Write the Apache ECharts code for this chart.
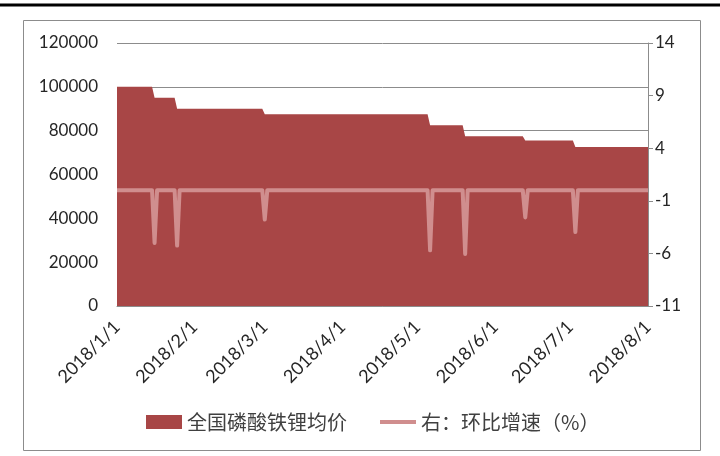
<!DOCTYPE html>
<html>
<head>
<meta charset="utf-8">
<script src="https://cdn.jsdelivr.net/npm/echarts@6/dist/echarts.min.js"></script>
<style>
html,body{margin:0;padding:0;background:#fff;}
#chart{width:720px;height:456px;}
</style>
</head>
<body>
<div id="chart"></div>
<script>
// Price (yuan/ton): dates of level changes and values
var priceDates = ['2018-01-01','2018-01-15','2018-01-16','2018-01-24','2018-01-25','2018-02-28','2018-03-01','2018-05-05','2018-05-06','2018-05-19','2018-05-20','2018-06-12','2018-06-13','2018-07-02','2018-07-03','2018-08-01'];
var priceValues = [100000,100000,95000,95000,90000,90000,87500,87500,82500,82500,77500,77500,75500,75500,72500,72500];
// Ring growth (%)
var ringDates = ['2018-01-01','2018-01-15','2018-01-16','2018-01-17','2018-01-24','2018-01-25','2018-01-26','2018-02-28','2018-03-01','2018-03-02','2018-05-05','2018-05-06','2018-05-07','2018-05-19','2018-05-20','2018-05-21','2018-06-12','2018-06-13','2018-06-14','2018-07-02','2018-07-03','2018-07-04','2018-08-01'];
var ringValues = [0,0,-5.0,0,0,-5.26,0,0,-2.78,0,0,-5.71,0,0,-6.06,0,0,-2.58,0,0,-3.97,0,0];
var xTickDates = ['2018-01-01','2018-02-01','2018-03-01','2018-04-01','2018-05-01','2018-06-01','2018-07-01','2018-08-01'];
var leftTicks = [0,120000,20000];
var rightTicks = [-11,14,5];
var seriesNames = ['全国磷酸铁锂均价','右：环比增速（%）'];

function toTime(s){ var p=s.split('-'); return new Date(+p[0], +p[1]-1, +p[2]).getTime(); }
function pair(d, v){ return d.map(function(x,i){ return [toTime(x), v[i]]; }); }

var chart = echarts.init(document.getElementById('chart'));
var numFont = 'Lato, "Liberation Sans", sans-serif';
var cjkFont = '"Noto Sans CJK SC", "Noto Sans", sans-serif';

chart.setOption({
  animation:false,
  backgroundColor:'#fff',
  graphic:[
    {type:'line', shape:{x1:0,y1:5,x2:720,y2:5}, style:{stroke:'#000', lineWidth:3}},
    {type:'rect', shape:{x:23.5,y:20.5,width:677,height:430}, style:{fill:null, stroke:'#8c8c8c', lineWidth:1}}
  ],
  grid:{left:117, right:72, top:43, bottom:150},
  legend:{
    left:141, top:407, itemGap:33, itemWidth:36, itemHeight:14,
    textStyle:{fontFamily:cjkFont, fontSize:20, color:'#404040'},
    data:[
      {name:seriesNames[0], icon:'rect'},
      {name:seriesNames[1], icon:'path://M0,0H36V4H0Z'}
    ]
  },
  xAxis:{
    type:'value', min:toTime(xTickDates[0]), max:toTime(xTickDates[xTickDates.length-1]),
    axisLine:{lineStyle:{color:'#8c8c8c'}},
    axisTick:{show:false},
    splitLine:{show:false},
    axisLabel:{
      rotate:45, margin:18, fontFamily:numFont, fontSize:18, color:'#262626', hideOverlap:false,
      showMinLabel:true, showMaxLabel:true,
      customValues:xTickDates.map(toTime),
      formatter:function(v){ var d=new Date(v); return d.getFullYear()+'/'+(d.getMonth()+1)+'/'+d.getDate(); }
    }
  },
  yAxis:[
    {
      type:'value', min:leftTicks[0], max:leftTicks[1], interval:leftTicks[2],
      axisLine:{show:false}, axisTick:{show:false},
      splitLine:{lineStyle:{color:'#8c8c8c', width:1}},
      axisLabel:{fontFamily:numFont, fontSize:17, color:'#262626', margin:19, formatter:function(v){return String(v);}}
    },
    {
      type:'value', min:rightTicks[0], max:rightTicks[1], interval:rightTicks[2], position:'right',
      axisLine:{show:true, lineStyle:{color:'#8c8c8c'}},
      axisTick:{show:true, inside:false, length:5, lineStyle:{color:'#8c8c8c'}},
      splitLine:{show:false},
      axisLabel:{fontFamily:numFont, fontSize:17, color:'#262626', margin:7}
    }
  ],
  series:[
    {
      name:seriesNames[0], type:'line', yAxisIndex:0, data:pair(priceDates, priceValues),
      showSymbol:false, symbol:'none',
      lineStyle:{width:0, color:'#A84646'}, itemStyle:{color:'#A84646'},
      areaStyle:{color:'#A84646', opacity:1}
    },
    {
      name:seriesNames[1], type:'line', yAxisIndex:1, data:pair(ringDates, ringValues),
      showSymbol:false, symbol:'none',
      lineStyle:{width:4, color:'#D08E8E', join:'round'}, itemStyle:{color:'#D08E8E'}
    }
  ]
});
</script>
</body>
</html>
